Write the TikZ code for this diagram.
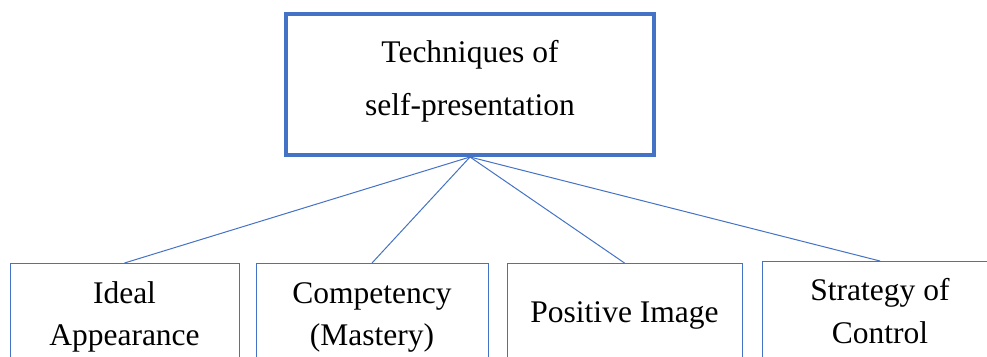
\documentclass[tikz,border=0pt]{standalone}
\usepackage{fontspec}
\setmainfont{Liberation Serif}
\definecolor{boxblue}{HTML}{4472C4}
\begin{document}
\begin{tikzpicture}[x=1pt,y=-1pt,
  topbox/.style={draw=boxblue,line width=4pt,rectangle,inner sep=0pt,minimum width=368pt,minimum height=141pt,fill=white},
  subbox/.style={draw=boxblue,line width=1pt,rectangle,inner sep=0pt,minimum height=140pt,anchor=north},
  label/.style={inner sep=0pt,anchor=base,font=\fontsize{31.5}{36}\selectfont},
  link/.style={draw=boxblue,line width=1pt}]
\useasboundingbox (0,0) rectangle (987,356);
\clip (0,0) rectangle (987,356);
% bottom boxes
\node[subbox,minimum width=229pt] (b1) at (124.5,263) {};
\node[subbox,minimum width=232pt] (b2) at (372,263) {};
\node[subbox,minimum width=235pt] (b3) at (624.5,263) {};
\node[subbox,minimum width=236pt] (b4) at (880,261) {};
% connectors
\coordinate (hub) at (470,157);
\draw[link] (hub) -- (b1.north);
\draw[link] (hub) -- (b2.north);
\draw[link] (hub) -- (b3.north);
\draw[link] (hub) -- (b4.north);
% top box
\node[topbox] (top) at (470,84.5) {};
\node[label] (t1) at (470,62) {Techniques of};
\node[label] (t2) at (470,115) {self-presentation};
% texts
\node[label] (l1a) at (124.5,303) {Ideal};
\node[label] (l1b) at (124.5,345) {Appearance};
\node[label] (l2a) at (372,303) {Competency};
\node[label] (l2b) at (372,345) {(Mastery)};
\node[label] (l3) at (624.5,322) {Positive Image};
\node[label] (l4a) at (880,300) {Strategy of};
\node[label] (l4b) at (880,343) {Control};
\end{tikzpicture}
\end{document}
